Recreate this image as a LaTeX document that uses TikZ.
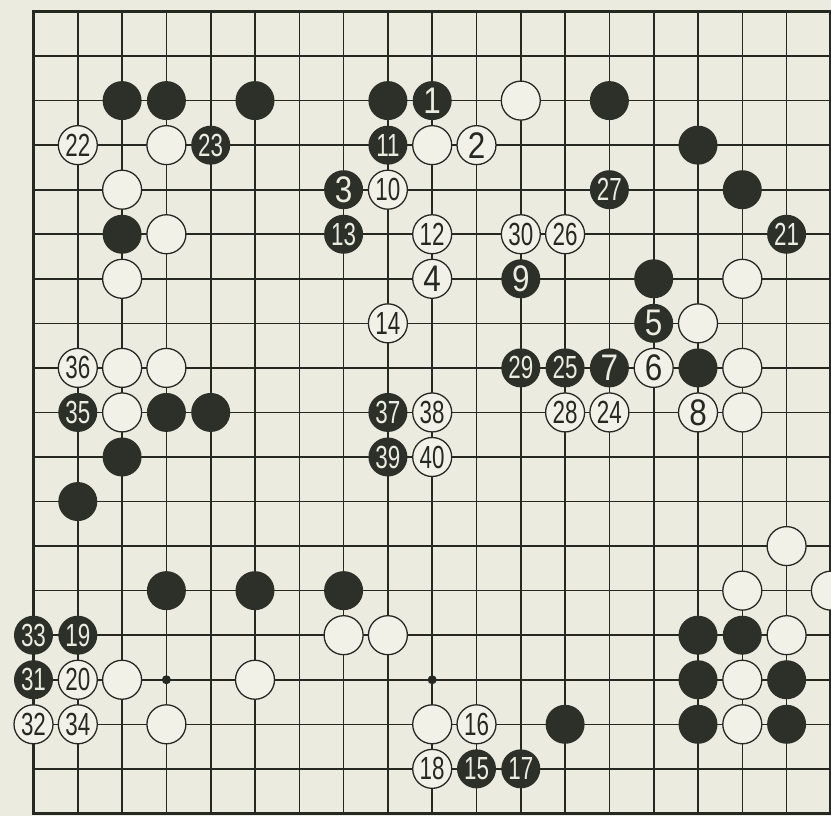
\documentclass[tikz,border=0pt]{standalone}
\usepackage{fontspec}
\newfontfamily\numA[FakeStretch=0.85]{Liberation Sans}
\newfontfamily\numB[FakeStretch=0.70]{Liberation Sans}
\definecolor{paper}{RGB}{236,235,224}
\definecolor{wfill}{RGB}{242,241,232}
\definecolor{ink}{RGB}{38,40,34}
\definecolor{bfill}{RGB}{44,48,41}
\tikzset{
  gridline/.style={draw=ink, line width=1.6pt},
  edgeline/.style={draw=ink, line width=3pt},
  stone/.style={circle, minimum size=39pt, inner sep=0pt},
  bst/.style={stone, fill=bfill, text=paper},
  wst/.style={stone, fill=wfill, draw=ink, line width=1.3pt, text=ink},
  starpt/.style={circle, fill=ink, minimum size=9pt, inner sep=0pt}
}
\newcommand{\numlab}[1]{\ifnum#1<10 \numA\fontsize{37}{37}\selectfont\else\numB\fontsize{32}{32}\selectfont\fi #1}
\begin{document}
\begin{tikzpicture}[x=1pt,y=-1pt]
\useasboundingbox (0,0) rectangle (831,816);
\fill[paper] (0,0) rectangle (831,816);
\clip (0,0) rectangle (831,816);
\begin{scope}[shift={(33.5,11.5)}, x=44.3pt, y=-44.55pt]
  % grid
  \foreach \i in {1,...,17} {
    \draw[gridline] (\i,0) -- (\i,18);
    \draw[gridline] (0,\i) -- (18,\i);
  }
  \draw[edgeline] (0,0) rectangle (18,18);
  % star points
  \node[starpt] (star1) at (3,15) {};
  \node[starpt] (star2) at (9,15) {};
  % plain black stones
  \foreach \c/\r [count=\k] in {2/2,3/2,5/2,8/2,13/2,15/3,16/4,2/5,14/6,15/8,3/9,4/9,2/10,1/11,3/13,5/13,7/13,15/14,16/14,15/15,17/15,12/16,15/16,17/16}
    \node[bst] (b\k) at (\c,\r) {};
  % plain white stones
  \foreach \c/\r [count=\k] in {11/2,3/3,9/3,2/4,3/5,2/6,16/6,15/7,2/8,3/8,16/8,2/9,16/9,17/12,16/13,18/13,7/14,8/14,17/14,2/15,5/15,16/15,3/16,9/16,16/16}
    \node[wst] (w\k) at (\c,\r) {};
  % numbered black stones
  \foreach \c/\r/\n in {9/2/1,4/3/23,8/3/11,7/4/3,13/4/27,7/5/13,17/5/21,11/6/9,14/7/5,11/8/29,12/8/25,13/8/7,1/9/35,8/9/37,8/10/39,0/14/33,1/14/19,0/15/31,10/17/15,11/17/17}
    \node[bst] (m\n) at (\c,\r) {\numlab{\n}};
  % numbered white stones
  \foreach \c/\r/\n in {1/3/22,10/3/2,8/4/10,9/5/12,11/5/30,12/5/26,9/6/4,8/7/14,1/8/36,14/8/6,9/9/38,12/9/28,13/9/24,15/9/8,9/10/40,1/15/20,0/16/32,1/16/34,10/16/16,9/17/18}
    \node[wst] (m\n) at (\c,\r) {\numlab{\n}};
\end{scope}
\end{tikzpicture}
\end{document}
